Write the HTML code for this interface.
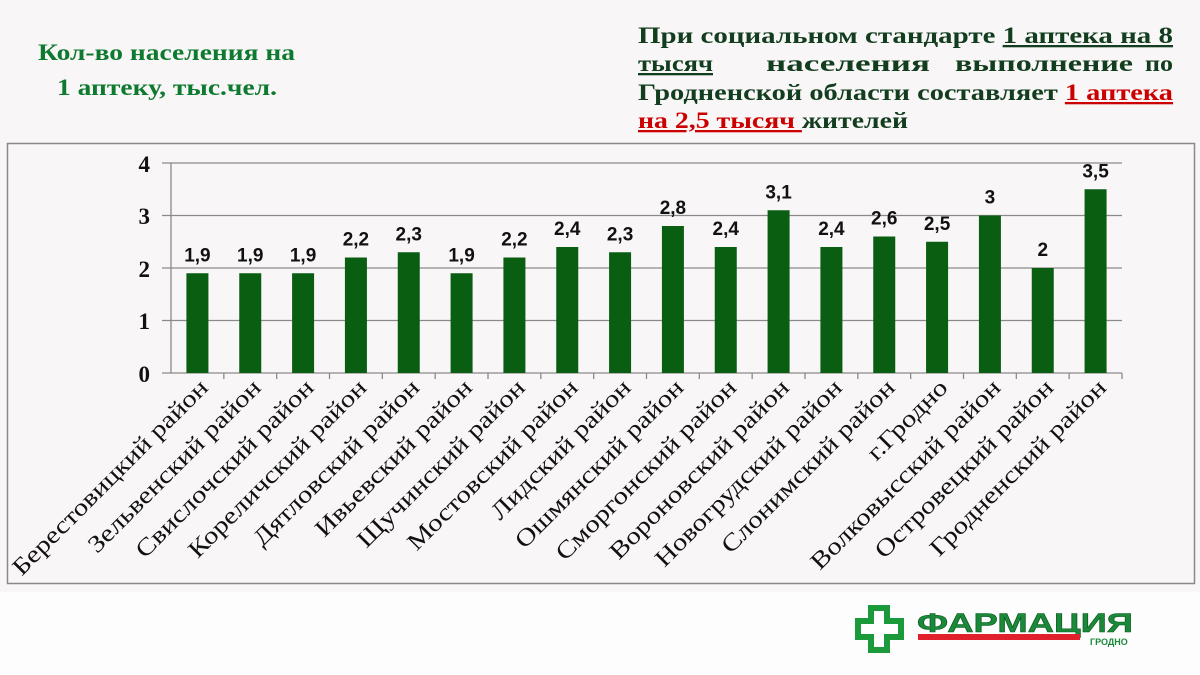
<!DOCTYPE html>
<html><head><meta charset="utf-8"><style>
html,body{margin:0;padding:0;width:1200px;height:675px;overflow:hidden;background:#f8f6f6;}
</style></head><body>
<svg width="1200" height="675" xmlns="http://www.w3.org/2000/svg" style="position:absolute;left:0;top:0">
<rect width="1200" height="675" fill="#f8f6f6"/>
<rect x="0" y="592" width="1200" height="83" fill="#fdfdfd"/>
<g font-family="Liberation Serif, serif" font-weight="bold" fill="#0e7a30" font-size="23">
<text x="38" y="60" textLength="257" lengthAdjust="spacingAndGlyphs">Кол-во населения на</text>
<text x="57" y="95" textLength="220" lengthAdjust="spacingAndGlyphs">1 аптеку, тыс.чел.</text>
</g>
<g font-family="Liberation Serif, serif" font-weight="bold" fill="#123d1e" font-size="23">
<text x="638" y="43" textLength="535" lengthAdjust="spacingAndGlyphs">При социальном стандарте <tspan text-decoration="underline">1 аптека на 8</tspan></text>
<text x="638" y="71" textLength="75" lengthAdjust="spacingAndGlyphs" text-decoration="underline">тысяч</text>
<text x="766" y="71" textLength="164" lengthAdjust="spacingAndGlyphs">населения</text>
<text x="955" y="71" textLength="178" lengthAdjust="spacingAndGlyphs">выполнение</text>
<text x="1145" y="71" textLength="28" lengthAdjust="spacingAndGlyphs">по</text>
<text x="638" y="100" textLength="535" lengthAdjust="spacingAndGlyphs">Гродненской области составляет <tspan fill="#cc0000" text-decoration="underline">1 аптека</tspan></text>
<text x="638" y="128" textLength="270" lengthAdjust="spacingAndGlyphs"><tspan fill="#cc0000" text-decoration="underline">на 2,5 тысяч </tspan>жителей</text>
</g>
<rect x="7.5" y="143.5" width="1187" height="440" fill="none" stroke="#8a8a8a" stroke-width="1.5"/>
<g stroke="#8a8a8a" stroke-width="1.3">
<line x1="162" y1="163" x2="1122" y2="163"/>
<line x1="162" y1="215.5" x2="1122" y2="215.5"/>
<line x1="162" y1="268" x2="1122" y2="268"/>
<line x1="162" y1="320.5" x2="1122" y2="320.5"/>
<line x1="162" y1="373" x2="1122" y2="373"/>
<line x1="171" y1="163" x2="171" y2="373"/>
</g>
<g font-family="Liberation Serif, serif" font-weight="bold" font-size="23" fill="#111" text-anchor="end">
<text x="150" y="172">4</text><text x="150" y="224">3</text><text x="150" y="277">2</text><text x="150" y="329">1</text><text x="150" y="382">0</text>
</g>
<g id="bars"></g>
<g transform="translate(855,605)">
<path d="M13 0h22v13h14v22h-14v13h-22v-13h-13v-22h13z" fill="#1a9a3a"/>
<path d="M19 6h10v13h14v10h-14v13h-10v-13h-13v-10h13z" fill="#fff"/>
<text x="62" y="27" textLength="216" lengthAdjust="spacingAndGlyphs" font-family="Liberation Sans, sans-serif" font-weight="bold" font-size="27" fill="#1a8a3a" stroke="#0e5a22" stroke-width="0.6">ФАРМАЦИЯ</text>
<rect x="63" y="29" width="162" height="6" fill="#e0202a"/>
<text x="235" y="40" font-family="Liberation Sans, sans-serif" font-weight="bold" font-size="9" fill="#1a8a3a">ГРОДНО</text>
</g>
</svg>
<script>
var names=["Берестовицкий район","Зельвенский район","Свислочский район","Кореличский район","Дятловский район","Ивьевский район","Щучинский район","Мостовский район","Лидский район","Ошмянский район","Сморгонский район","Вороновский район","Новогрудский район","Слонимский район","г.Гродно","Волковысский район","Островецкий район","Гродненский район"];
var vals=[1.9,1.9,1.9,2.2,2.3,1.9,2.2,2.4,2.3,2.8,2.4,3.1,2.4,2.6,2.5,3,2,3.5];
var g=document.getElementById('bars'),h="";
var w=(1122-171)/18;
for(var i=0;i<18;i++){
 var c=171+w*(i+0.5);
 var y=373-vals[i]*52.5;
 h+='<rect x="'+(c-11)+'" y="'+y+'" width="22" height="'+(373-y)+'" fill="#0a5e12"/>';
 h+='<text x="'+c+'" y="'+(y-12)+'" text-anchor="middle" font-family="Liberation Sans, sans-serif" font-weight="bold" font-size="19" fill="#111">'+String(vals[i]).replace('.',',')+'</text>';
 var tx=171+w*(i+1);
 h+='<line x1="'+tx+'" y1="373" x2="'+tx+'" y2="379" stroke="#8a8a8a" stroke-width="1.3"/>';
 h+='<text class="lab" transform="translate('+(c+12)+',389) rotate(-45)" text-anchor="end" font-family="Liberation Serif, serif" font-size="24" fill="#111">'+names[i]+'</text>';
}
g.innerHTML=h;
var labs=document.querySelectorAll('.lab');
for(var j=0;j<labs.length;j++){var L=labs[j].getComputedTextLength();labs[j].setAttribute('textLength',L*1.2);labs[j].setAttribute('lengthAdjust','spacingAndGlyphs');}
</script>
</body></html>
